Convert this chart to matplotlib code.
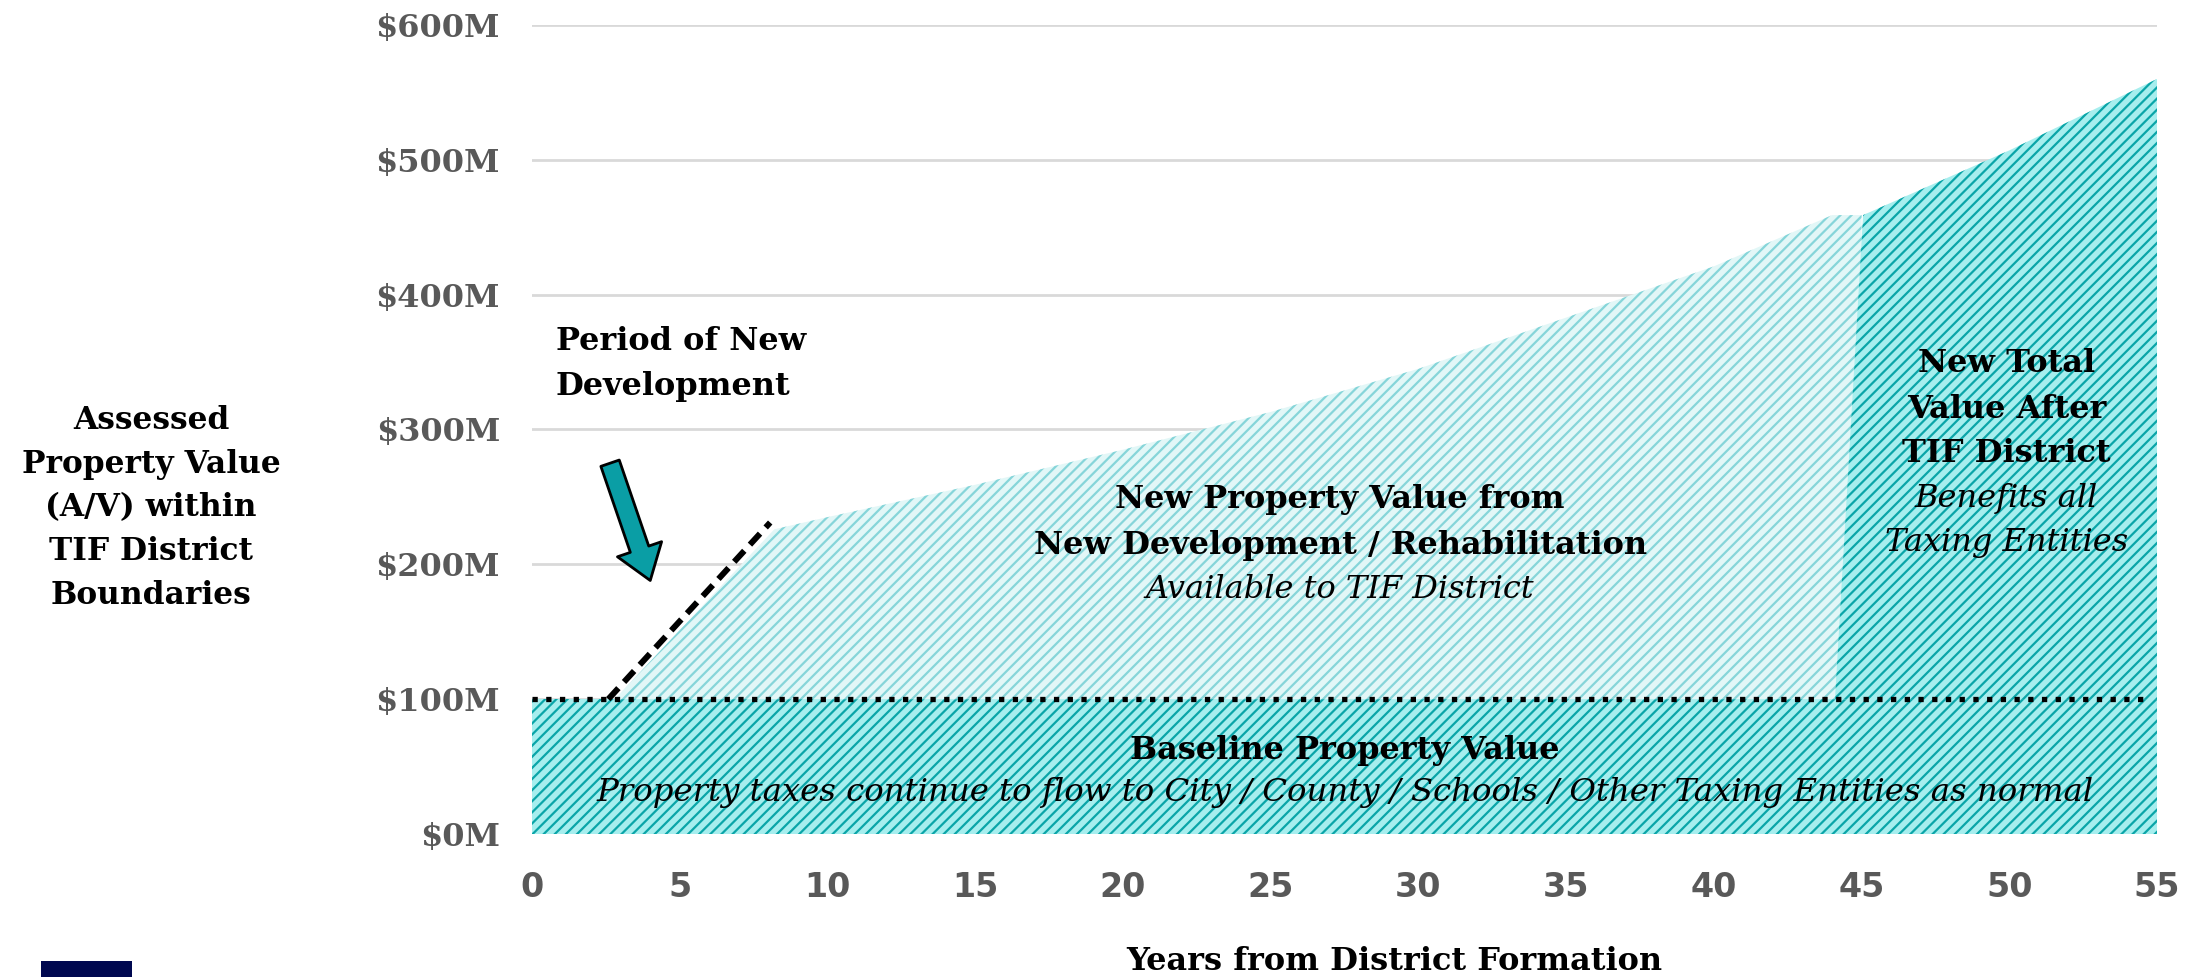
import matplotlib
matplotlib.use("Agg")
import matplotlib.pyplot as plt
from matplotlib.patches import Rectangle

# ---------------- data ----------------
years_ticks = [0, 5, 10, 15, 20, 25, 30, 35, 40, 45, 50, 55]
value_ticks = [0, 100, 200, 300, 400, 500, 600]
value_labels = ["$0M", "$100M", "$200M", "$300M", "$400M", "$500M", "$600M"]

baseline_years = [0, 55]
baseline_values = [100, 100]

new_dev_years = [2.8, 8.2, 10, 15, 20, 25, 30, 35, 40, 44, 45]
new_dev_values = [100, 226, 235, 259, 285, 313, 345, 383, 421, 459, 459]

after_tif_years = [44.1, 45.05, 50, 55]
after_tif_values = [100, 459, 507, 560]

dev_period_years = [2.58, 8.06]
dev_period_values = [100, 231]

baseline_line_years = [0, 54.7]

arrow_tail = (2.64, 275)
arrow_head = (4.0, 188)

# ---------------- style ----------------
plt.rcParams['hatch.linewidth'] = 1.6
BOLD = dict(family='DejaVu Serif', weight='bold')
ITAL = dict(family='DejaVu Serif', style='italic')
GREY = '#595959'
FS = 23

fig = plt.figure(figsize=(21.95, 9.77), dpi=100)
ax = fig.add_axes([0.2424, 0.1464, 0.7403, 0.828])

ax.set_xlim(0, 55)
ax.set_ylim(0, 600)
for s in ax.spines.values():
    s.set_visible(False)

ax.set_yticks(value_ticks)
ax.set_yticklabels(value_labels, fontsize=23, color=GREY, **BOLD)
ax.set_xticks(years_ticks)
ax.set_xticklabels([str(v) for v in years_ticks], fontsize=24, color=GREY,
                   family='DejaVu Sans', weight='bold')
ax.tick_params(axis='both', length=0)
ax.tick_params(axis='y', pad=23)
ax.tick_params(axis='x', pad=27)
ax.yaxis.grid(True, color='#D9D9D9', linewidth=2)
ax.set_axisbelow(True)

# baseline area
ax.fill_between(baseline_years, 0, baseline_values, facecolor='#A6EEEE',
                edgecolor='#0AA5A8', hatch='///', linewidth=0, zorder=2)
# new development area
ax.fill_between(new_dev_years, 100, new_dev_values, facecolor='#E2F7F7',
                edgecolor='#86D5D9', hatch='///', linewidth=0, zorder=2)
# after TIF area
ax.fill_between(after_tif_years, 100, after_tif_values, facecolor='#A6EEEE',
                edgecolor='#0AA5A8', hatch='///', linewidth=0, zorder=3)

# dotted baseline
ax.plot(baseline_line_years, baseline_values, color='black', linewidth=3.8,
        linestyle=(0, (1, 1.6)), dash_capstyle='butt', zorder=5)
# dashed development period line
ax.plot(dev_period_years, dev_period_values, color='black', linewidth=4.3,
        linestyle=(0, (2.5, 1.4)), dash_capstyle='butt', zorder=5)

# arrow
ax.annotate('', xy=arrow_head, xytext=arrow_tail,
            arrowprops=dict(arrowstyle='simple,head_length=0.85,head_width=1.2,tail_width=0.5',
                            mutation_scale=28, facecolor='#0A9EA5', edgecolor='black',
                            linewidth=2, shrinkA=0, shrinkB=0), zorder=6)

# texts
ax.text(0.81, 365, "Period of New", ha='left', va='center', fontsize=FS, color='black', **BOLD)
ax.text(0.81, 332, "Development", ha='left', va='center', fontsize=FS, color='black', **BOLD)

ax.text(27.35, 248, "New Property Value from", ha='center', va='center', fontsize=FS, **BOLD, zorder=7)
ax.text(27.35, 214, "New Development / Rehabilitation", ha='center', va='center', fontsize=FS, **BOLD, zorder=7)
ax.text(27.35, 181, "Available to TIF District", ha='center', va='center', fontsize=FS, **ITAL, zorder=7)

ax.text(49.9, 349, "New Total", ha='center', va='center', fontsize=FS, **BOLD, zorder=7)
ax.text(49.9, 315, "Value After", ha='center', va='center', fontsize=FS, **BOLD, zorder=7)
ax.text(49.9, 282, "TIF District", ha='center', va='center', fontsize=FS, **BOLD, zorder=7)
ax.text(49.9, 249, "Benefits all", ha='center', va='center', fontsize=FS, **ITAL, zorder=7)
ax.text(49.9, 216, "Taxing Entities", ha='center', va='center', fontsize=FS, **ITAL, zorder=7)

ax.text(27.5, 62, "Baseline Property Value", ha='center', va='center', fontsize=FS, **BOLD, zorder=7)
ax.text(27.5, 31, "Property taxes continue to flow to City / County / Schools / Other Taxing Entities as normal",
        ha='center', va='center', fontsize=23.3, **ITAL, zorder=7)

# axis titles
fig.text(151 / 2195, 1 - 508 / 977,
         "Assessed\nProperty Value\n(A/V) within\nTIF District\nBoundaries",
         ha='center', va='center', fontsize=22.5, linespacing=1.53, **BOLD)
fig.text(1394 / 2195, 1 - 962 / 977, "Years from District Formation",
         ha='center', va='center', fontsize=23, **BOLD)

# logo block
fig.patches.append(Rectangle((41 / 2195, 0), 91 / 2195, 16 / 977, transform=fig.transFigure,
                             facecolor='#000850', edgecolor='none'))

fig.savefig('out.png', dpi=100)
